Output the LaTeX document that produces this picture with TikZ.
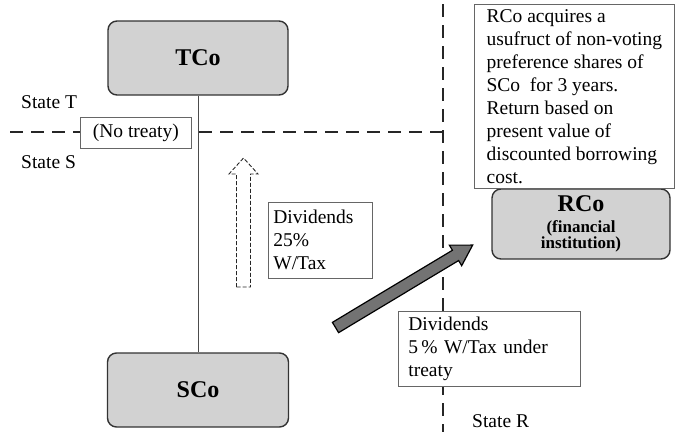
\documentclass[tikz,border=0pt]{standalone}
\usepackage{fontspec}
\setmainfont{Liberation Serif}

\begin{document}
\begin{tikzpicture}[
  x=1pt, y=1pt,
  every node/.style={font=\fontsize{19.5}{23}\selectfont},
  co/.style={draw=black!80, line width=1.4pt, fill=gray!35, rounded corners=9pt, align=center, font=\bfseries\fontsize{24}{26}\selectfont},
  box/.style={draw=black!60, line width=0.7pt, fill=white, align=left, anchor=north west, inner xsep=5pt, inner ysep=2pt},
  border/.style={black!85, line width=2.6pt, dash pattern=on 13pt off 8pt},
  link/.style={black!70, line width=0.9pt},
  hollow/.style={black!85, line width=0.9pt, dash pattern=on 4pt off 2pt},
  fat/.style={draw=black, line width=1.2pt, fill=black!55, line join=miter},
  lbl/.style={anchor=west, inner sep=0pt}
]
\useasboundingbox (0,0) rectangle (676,-434);

% State borders
\def\Bx{443}
\def\By{-132}
\coordinate (bL) at (10,\By);
\coordinate (bC) at (\Bx,\By);
\coordinate (bTop) at (\Bx,-4);
\coordinate (bBot) at (\Bx,-432);
\draw[border] (bL) -- (bC);
\draw[border] (bTop) -- (bBot);

% Companies
\node[co, minimum width=180pt, minimum height=74pt] (TCo) at (198,-58) {TCo};
\node[co, minimum width=181pt, minimum height=74pt] (SCo) at (198,-390) {SCo};
\node[co, minimum width=178pt, minimum height=70pt, font=\bfseries\fontsize{17}{16}\selectfont] (RCo) at (581,-224)
  {{\fontsize{24}{26}\selectfont RCo}\\[5pt](financial\\institution)};

\draw[link] (TCo) -- (SCo);

% State names
\node[lbl] (stT) at (21,-102) {State T};
\node[lbl] (stS) at (21,-162) {State S};
\node[lbl] (stR) at (472,-421) {State R};

\node[box, minimum width=111pt, minimum height=31pt, anchor=west, align=center] (noTreaty) at (80,-132.5) {(No treaty)};

% Dividends to TCo
\draw[hollow] (236.5,-287) -- (236.5,-174) -- (229,-174) -- (243.5,-158) -- (258,-174) -- (250.5,-174) -- (250.5,-287) -- cycle;
\node[box, text width=94pt, minimum height=76pt] (divT) at (268,-202) {Dividends\\25\%\\W/Tax};

% Dividends to RCo
\coordinate (divTail) at (335.5,-327.5);
\begin{scope}[shift={(divTail)}, rotate=31]
  \draw[fat] (0,-6) -- (140,-6) -- (140,-12) -- (160,0) -- (140,12) -- (140,6) -- (0,6) -- cycle;
\end{scope}
\node[box, inner xsep=10pt, text width=162pt, minimum height=75pt] (divR) at (398,-311) {Dividends\\5\,\% W/Tax under\\treaty};

% Usufruct note
\node[box, inner ysep=3pt, minimum width=200pt, minimum height=184pt] (usufruct) at (474,-4)
  {RCo acquires a\\usufruct of non-voting\\preference shares of\\SCo\ \ for 3 years.\\Return based on\\present value of\\discounted borrowing\\cost.};

\end{tikzpicture}
\end{document}
